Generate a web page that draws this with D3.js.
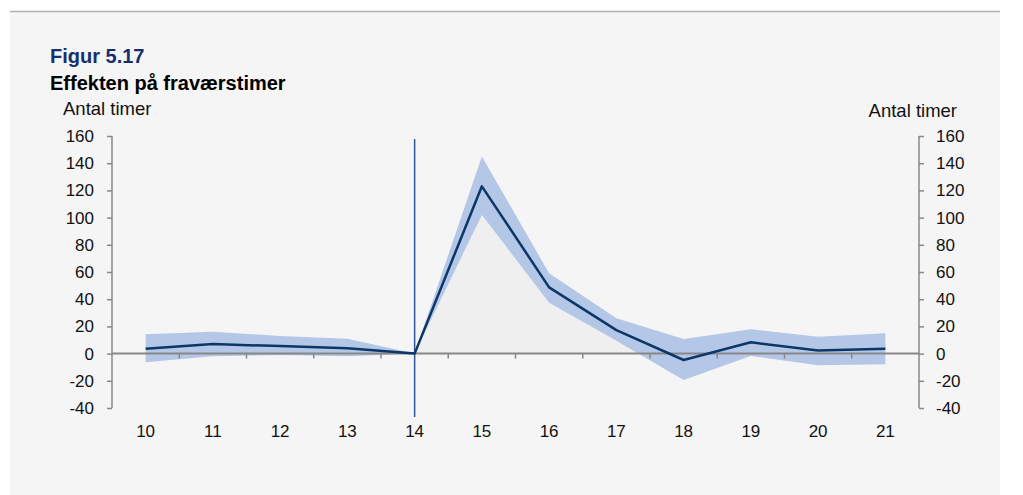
<!DOCTYPE html>
<html>
<head>
<meta charset="utf-8">
<script src="https://cdn.jsdelivr.net/npm/d3@7"></script>
<style>
  html, body { margin: 0; padding: 0; background: #fff; }
  svg { display: block; font-family: "Liberation Sans", Arial, sans-serif; }
</style>
</head>
<body>
<svg width="1023" height="495"></svg>
<script>
// data
const years = [10, 11, 12, 13, 14, 15, 16, 17, 18, 19, 20, 21];
const estimate = [3.6, 7, 5.5, 4, 0, 123, 48.7, 17.3, -4.7, 8.3, 2.2, 3.6];
const upper = [14.2, 16, 13, 11, 0, 145, 59, 26, 10.7, 17.9, 12.4, 14.9];
const lower = [-6.4, -2, -1, -2, 0, 102, 37.4, 9.5, -19.4, -1.8, -8.6, -7.9];
const yTicks = [-40, -20, 0, 20, 40, 60, 80, 100, 120, 140, 160];
const reformYear = 14;

const svg = d3.select("svg");
const plotLeft = 112, plotRight = 919, plotTop = 136, plotBottom = 408;

// panel
svg.append("rect").attr("x", 10).attr("y", 11).attr("width", 990).attr("height", 484)
  .attr("fill", "#f5f5f5");
svg.append("line").attr("x1", 10).attr("x2", 1000).attr("y1", 11.5).attr("y2", 11.5)
  .attr("stroke", "#b0b0b0").attr("stroke-width", 1.5);

svg.append("text").attr("x", 50).attr("y", 63).text("Figur 5.17")
  .attr("font-size", 20).attr("font-weight", "bold").attr("fill", "#14306e");
svg.append("text").attr("x", 50).attr("y", 90).text("Effekten på fraværstimer")
  .attr("font-size", 20).attr("font-weight", "bold").attr("fill", "#000");
svg.append("text").attr("x", 63).attr("y", 115).text("Antal timer")
  .attr("font-size", 18.5).attr("fill", "#111");
svg.append("text").attr("x", 957).attr("y", 117).attr("text-anchor", "end").text("Antal timer")
  .attr("font-size", 18.5).attr("fill", "#111");

const x = d3.scaleBand().domain(years).range([plotLeft, plotRight]);
const xc = d => x(d) + x.bandwidth() / 2;
const y = d3.scaleLinear().domain([-40, 160]).range([plotBottom, plotTop]);

const rows = years.map((yr, i) => ({yr, est: estimate[i], hi: upper[i], lo: lower[i]}));

// light fill below the lower bound (stacked base series)
svg.append("path").datum(rows)
  .attr("d", d3.area().x(d => xc(d.yr)).y0(y(0)).y1(d => y(Math.max(0, d.lo))))
  .attr("fill", "#efefef");

// confidence band
svg.append("path").datum(rows)
  .attr("d", d3.area().x(d => xc(d.yr)).y0(d => y(d.lo)).y1(d => y(d.hi)))
  .attr("fill", "#b4c7e7");

// axes
const axisColor = "#888";
const fmt = d => String(d);
const gl = svg.append("g").attr("transform", `translate(${plotLeft},0)`)
  .call(d3.axisLeft(y).tickValues(yTicks).tickFormat(fmt).tickSize(5).tickPadding(13));
const gr = svg.append("g").attr("transform", `translate(${plotRight},0)`)
  .call(d3.axisRight(y).tickValues(yTicks).tickFormat(fmt).tickSize(5).tickPadding(12));
[gl, gr].forEach(g => {
  g.select(".domain").attr("stroke", axisColor).attr("stroke-width", 1.5)
    .attr("d", `M0,${plotTop}V${plotBottom}`);
  g.selectAll(".tick line").attr("stroke", axisColor).attr("stroke-width", 1.5);
  g.selectAll(".tick text").attr("font-size", 17).attr("fill", "#111")
    .attr("font-family", "Liberation Sans, Arial, sans-serif");
});

// x axis at zero with ticks between categories
svg.append("line").attr("x1", plotLeft).attr("x2", plotRight).attr("y1", y(0)).attr("y2", y(0))
  .attr("stroke", axisColor).attr("stroke-width", 2);
svg.append("g").selectAll("line").data(years.slice(1)).join("line")
  .attr("x1", d => x(d)).attr("x2", d => x(d))
  .attr("y1", y(0)).attr("y2", y(0) + 5)
  .attr("stroke", axisColor).attr("stroke-width", 1.5);
svg.append("g").selectAll("text").data(years).join("text")
  .attr("x", d => xc(d)).attr("y", 437).attr("text-anchor", "middle")
  .attr("font-size", 17).attr("fill", "#111").text(d => d);

// reform line
svg.append("line").attr("x1", xc(reformYear)).attr("x2", xc(reformYear))
  .attr("y1", 139).attr("y2", 417)
  .attr("stroke", "#2f5597").attr("stroke-width", 1.5);

// estimate
svg.append("path").datum(rows)
  .attr("d", d3.line().x(d => xc(d.yr)).y(d => y(d.est)))
  .attr("fill", "none").attr("stroke", "#0b3768").attr("stroke-width", 2.5)
  .attr("stroke-linejoin", "round");
</script>
</body>
</html>
